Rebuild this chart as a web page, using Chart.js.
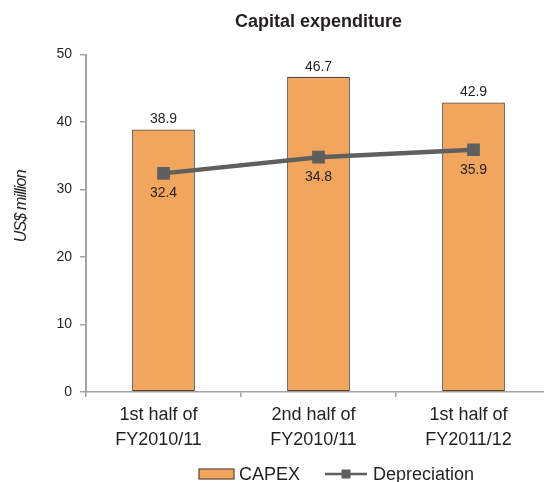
<!DOCTYPE html>
<html>
<head>
<meta charset="utf-8">
<script src="https://cdn.jsdelivr.net/npm/chart.js@4"></script>
<style>
  html, body { margin: 0; padding: 0; background: #fff; overflow: hidden; }
  #wrap { width: 560px; height: 482px; position: relative; }
</style>
</head>
<body>
<div id="wrap"><canvas id="c" width="560" height="482"></canvas></div>
<script>
const categories = [["1st half of", "FY2010/11"], ["2nd half of", "FY2010/11"], ["1st half of", "FY2011/12"]];
const capexValues = [38.9, 46.7, 42.9];
const depreciationValues = [32.4, 34.8, 35.9];
const yTicks = [0, 10, 20, 30, 40, 50];
const seriesNames = ["CAPEX", "Depreciation"];
const chartTitle = "Capital expenditure";
const yAxisTitle = "US$ million";

const FONT = "'Liberation Sans', Arial, Helvetica, sans-serif";
const TEXT = "#231f20";
const BAR_FILL = "#f2a55c";
const BAR_EDGE = "#5b4632";
const LINE_COL = "#5f5f5f";
const AXIS_COL = "#a3a3a3";

const valueLabels = {
  id: "valueLabels",
  afterDatasetsDraw(chart) {
    const ctx = chart.ctx;
    ctx.save();
    ctx.fillStyle = TEXT;
    ctx.font = "14px " + FONT;
    ctx.textAlign = "center";
    ctx.textBaseline = "middle";
    chart.data.datasets.forEach((ds, i) => {
      const meta = chart.getDatasetMeta(i);
      meta.data.forEach((el, j) => {
        const v = ds.data[j].toFixed(1);
        if (ds.type === "bar") ctx.fillText(v, el.x, el.y - 10);
        else ctx.fillText(v, el.x, el.y + 20);
      });
    });
    ctx.restore();
  }
};

const yTitle = {
  id: "yTitle",
  afterDraw(chart) {
    const ctx = chart.ctx, a = chart.chartArea;
    ctx.save();
    ctx.fillStyle = TEXT;
    ctx.font = "italic 16px " + FONT;
    if ("letterSpacing" in ctx) ctx.letterSpacing = "-0.8px";
    ctx.textAlign = "center";
    ctx.textBaseline = "middle";
    ctx.translate(22, (a.top + a.bottom) / 2 - 17);
    ctx.rotate(-Math.PI / 2);
    ctx.fillText(yAxisTitle, 0, 0);
    ctx.restore();
  }
};

const customLegend = {
  id: "customLegend",
  afterDraw(chart) {
    const ctx = chart.ctx, a = chart.chartArea;
    const y = a.bottom + 82;
    let x = a.left + 113;
    ctx.save();
    ctx.font = "18px " + FONT;
    ctx.textBaseline = "middle";
    // CAPEX swatch
    ctx.fillStyle = BAR_FILL;
    ctx.fillRect(x, y - 5, 35, 10);
    ctx.strokeStyle = BAR_EDGE;
    ctx.lineWidth = 1.2;
    ctx.strokeRect(x, y - 5, 35, 10);
    ctx.fillStyle = TEXT;
    ctx.fillText(seriesNames[0], x + 40, y + 1);
    // Depreciation swatch
    x = a.left + 239;
    ctx.strokeStyle = LINE_COL;
    ctx.lineWidth = 2.5;
    ctx.beginPath();
    ctx.moveTo(x, y);
    ctx.lineTo(x + 42, y);
    ctx.stroke();
    ctx.fillStyle = LINE_COL;
    ctx.fillRect(x + 21 - 4.5, y - 4.5, 9, 9);
    ctx.fillStyle = TEXT;
    ctx.fillText(seriesNames[1], x + 48, y + 1);
    ctx.restore();
  }
};

new Chart(document.getElementById("c"), {
  data: {
    labels: categories,
    datasets: [
      {
        type: "line",
        label: seriesNames[1],
        data: depreciationValues,
        borderColor: LINE_COL,
        backgroundColor: LINE_COL,
        borderWidth: 4.5,
        pointStyle: "rect",
        pointRadius: 9,
        pointBorderWidth: 0,
        pointBackgroundColor: LINE_COL,
        tension: 0,
        order: 0
      },
      {
        type: "bar",
        label: seriesNames[0],
        data: capexValues,
        backgroundColor: BAR_FILL,
        borderColor: BAR_EDGE,
        borderWidth: 1.3,
        borderSkipped: false,
        barPercentage: 0.405,
        categoryPercentage: 1,
        order: 1
      }
    ]
  },
  plugins: [valueLabels, yTitle, customLegend],
  options: {
    responsive: false,
    animation: false,
    events: [],
    layout: { padding: { left: 0, right: 0, top: 0, bottom: 0 } },
    plugins: {
      legend: { display: false },
      tooltip: { enabled: false },
      title: {
        display: true,
        text: chartTitle,
        fullSize: false,
        color: TEXT,
        font: { family: FONT, size: 18, weight: "bold", lineHeight: 1.2 },
        padding: { top: 11, bottom: 22 }
      }
    },
    scales: {
      x: {
        type: "category",
        offset: true,
        afterFit(s) { s.height = 90; },
        border: { color: AXIS_COL, width: 1.5 },
        grid: { display: true, drawOnChartArea: false, offset: true, tickLength: 5, color: AXIS_COL, lineWidth: 1.5 },
        ticks: {
          color: TEXT,
          padding: 6,
          labelOffset: -5,
          maxRotation: 0,
          autoSkip: false,
          font: { family: FONT, size: 18, lineHeight: 1.39 }
        }
      },
      y: {
        min: yTicks[0],
        max: yTicks[yTicks.length - 1],
        afterFit(s) { s.width = 86; },
        afterBuildTicks(s) { s.ticks = yTicks.map(v => ({ value: v })); },
        border: { color: AXIS_COL, width: 2 },
        grid: { display: true, drawOnChartArea: false, tickLength: 6, color: AXIS_COL, lineWidth: 1.5 },
        ticks: {
          color: TEXT,
          padding: 8,
          font: { family: FONT, size: 14 }
        }
      }
    }
  }
});
</script>
</body>
</html>
